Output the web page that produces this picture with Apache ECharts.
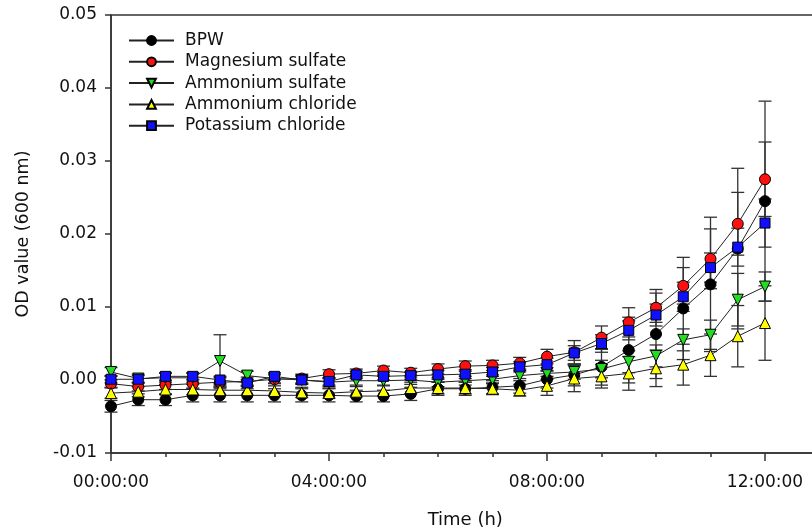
<!DOCTYPE html>
<html>
<head>
<meta charset="utf-8">
<script src="https://cdn.jsdelivr.net/npm/echarts@6/dist/echarts.min.js"></script>
<style>html,body{margin:0;padding:0;background:#fff;}#c{width:812px;height:528px;}</style>
</head>
<body>
<div id="c"></div>
<script>
// Time points (hours)
const hours = [0,0.5,1,1.5,2,2.5,3,3.5,4,4.5,5,5.5,6,6.5,7,7.5,8,8.5,9,9.5,10,10.5,11,11.5,12];
const xTickLabels = {0:'00:00:00',4:'04:00:00',8:'08:00:00',12:'12:00:00'};
const seriesNames = ['BPW','Magnesium sulfate','Ammonium sulfate','Ammonium chloride','Potassium chloride'];

const bpw = [-0.0036,-0.0027,-0.0027,-0.0021,-0.0021,-0.0021,-0.0021,-0.0021,-0.0021,-0.0022,-0.0022,-0.0019,-0.0012,-0.0012,-0.0010,-0.0008,0.0001,0.0007,0.0018,0.0041,0.0063,0.0098,0.0131,0.0180,0.0245];
const bpwErr = [0.0008,0.0008,0.0008,0.0009,0.0009,0.0009,0.0009,0.0009,0.0009,0.0008,0.0008,0.0009,0.0009,0.0009,0.0009,0.0010,0.0012,0.0015,0.0025,0.0045,0.0061,0.0070,0.0092,0.0110,0.0137];

const mgSulfate = [-0.0005,-0.0009,-0.0007,-0.0005,-0.0003,-0.0002,0.0001,0.0002,0.0008,0.0009,0.0013,0.0010,0.0015,0.0019,0.0020,0.0023,0.0032,0.0038,0.0058,0.0079,0.0099,0.0129,0.0166,0.0214,0.0275];
const mgSulfateErr = [0.0005,0.0006,0.0006,0.0006,0.0006,0.0006,0.0006,0.0006,0.0006,0.0006,0.0006,0.0006,0.0007,0.0007,0.0007,0.0008,0.0010,0.0016,0.0016,0.0020,0.0020,0.0025,0.0041,0.0043,0.0051];

const amSulfate = [0.0011,0.0002,0.0003,0.0003,0.0026,0.0006,0.0002,0.0000,-0.0003,-0.0001,-0.0001,0.0000,-0.0003,-0.0001,0.0001,0.0006,0.0009,0.0011,0.0015,0.0025,0.0033,0.0055,0.0062,0.0110,0.0128];
const amSulfateErr = [0.0006,0.0006,0.0006,0.0006,0.0036,0.0006,0.0006,0.0006,0.0006,0.0006,0.0006,0.0006,0.0006,0.0006,0.0006,0.0007,0.0008,0.0010,0.0012,0.0015,0.0015,0.0015,0.0020,0.0036,0.0020];

const amChloride = [-0.0018,-0.0016,-0.0013,-0.0013,-0.0014,-0.0014,-0.0015,-0.0017,-0.0018,-0.0016,-0.0015,-0.0011,-0.0011,-0.0011,-0.0012,-0.0014,-0.0008,0.0002,0.0005,0.0009,0.0016,0.0021,0.0034,0.0060,0.0078];
const amChlorideErr = [0.0007,0.0007,0.0007,0.0007,0.0007,0.0007,0.0007,0.0007,0.0007,0.0007,0.0007,0.0008,0.0008,0.0008,0.0008,0.0008,0.0013,0.0018,0.0016,0.0023,0.0025,0.0028,0.0029,0.0042,0.0051];

const kChloride = [0.0001,0.0001,0.0005,0.0005,0.0000,-0.0004,0.0005,0.0000,-0.0002,0.0007,0.0005,0.0006,0.0007,0.0008,0.0011,0.0018,0.0021,0.0037,0.0050,0.0068,0.0089,0.0114,0.0154,0.0182,0.0215];
const kChlorideErr = [0.0005,0.0005,0.0005,0.0005,0.0005,0.0005,0.0005,0.0005,0.0005,0.0005,0.0005,0.0005,0.0006,0.0006,0.0006,0.0007,0.0009,0.0010,0.0012,0.0013,0.0015,0.0020,0.0020,0.0026,0.0033];

const FONT = 'DejaVu Sans';
const sets = [
  {name: seriesNames[0], v: bpw, e: bpwErr, color: '#000000', symbol: 'circle', rot: 0},
  {name: seriesNames[1], v: mgSulfate, e: mgSulfateErr, color: '#ff1010', symbol: 'circle', rot: 0},
  {name: seriesNames[2], v: amSulfate, e: amSulfateErr, color: '#22dd22', symbol: 'triangle', rot: 180},
  {name: seriesNames[3], v: amChloride, e: amChlorideErr, color: '#ffff00', symbol: 'triangle', rot: 0},
  {name: seriesNames[4], v: kChloride, e: kChlorideErr, color: '#1010ff', symbol: 'rect', rot: 0}
];

function errRender(params, api) {
  const lo = api.coord([api.value(0), api.value(1)]);
  const hi = api.coord([api.value(0), api.value(2)]);
  const w = 6.5;
  const st = {stroke: '#333', lineWidth: 1.3};
  return {type: 'group', children: [
    {type: 'line', shape: {x1: lo[0], y1: lo[1], x2: hi[0], y2: hi[1]}, style: st},
    {type: 'line', shape: {x1: lo[0]-w, y1: lo[1], x2: lo[0]+w, y2: lo[1]}, style: st},
    {type: 'line', shape: {x1: hi[0]-w, y1: hi[1], x2: hi[0]+w, y2: hi[1]}, style: st}
  ]};
}

const series = [];
sets.forEach(function(s, k) {
  series.push({
    name: s.name + ' err', type: 'custom', renderItem: errRender, z: 1 + k*0.01,
    xAxisIndex: 0, yAxisIndex: 0, silent: true,
    encode: {x: 0, y: [1, 2]},
    data: hours.map(function(t, i){ return [t, s.v[i] - s.e[i], s.v[i] + s.e[i]]; })
  });
});
sets.forEach(function(s, k) {
  series.push({
    name: s.name, type: 'line', z: 3 + k*0.01, xAxisIndex: 0, yAxisIndex: 0,
    symbol: s.symbol, symbolRotate: s.rot, symbolSize: s.symbol === 'rect' ? 10 : 11,
    lineStyle: {color: '#222', width: 1},
    itemStyle: {color: s.color, borderColor: '#000', borderWidth: 1},
    data: hours.map(function(t, i){ return [t, s.v[i]]; }),
    animation: false
  });
});

const chart = echarts.init(document.getElementById('c'));
chart.setOption({
  animation: false,
  backgroundColor: '#fff',
  grid: {left: 111, top: 15, bottom: 75, right: -7.5, show: true, borderColor: '#333', borderWidth: 1.5,
         outerBoundsMode: 'none', containLabel: false},
  legend: {
    data: seriesNames, orient: 'vertical', left: 128, top: 32, padding: 0, itemWidth: 45, itemHeight: 11, itemGap: 4.3,
    textStyle: {fontFamily: FONT, fontSize: 17, color: '#111', lineHeight: 17, padding: [0, 0, 0, 6]}
  },
  xAxis: [
    {type: 'value', min: 0, max: 13, interval: 1,
     axisLine: {onZero: false, lineStyle: {color: '#333', width: 1.5}},
     axisTick: {show: true, length: 4, lineStyle: {color: '#333', width: 1.5}},
     axisLabel: {show: false}, splitLine: {show: false}},
    {type: 'value', min: 0, max: 13, interval: 4, position: 'bottom',
     axisLine: {show: false, onZero: false},
     axisTick: {show: true, length: 8, lineStyle: {color: '#333', width: 1.5}},
     axisLabel: {show: true, margin: 21, fontFamily: FONT, fontSize: 17, color: '#111',
       formatter: function(v){ return xTickLabels[v] || ''; }},
     splitLine: {show: false},
     name: 'Time (h)', nameLocation: 'middle', nameGap: 58,
     nameTextStyle: {fontFamily: FONT, fontSize: 18, color: '#111'}}
  ],
  yAxis: {type: 'value', min: -0.01, max: 0.05, interval: 0.01,
    axisLine: {show: true, onZero: false, lineStyle: {color: '#333', width: 1.5}},
    axisTick: {show: true, length: 6, lineStyle: {color: '#333', width: 1.5}},
    axisLabel: {margin: 14, fontFamily: FONT, fontSize: 17, color: '#111',
      formatter: function(v){ return v.toFixed(2); }},
    splitLine: {show: false},
    name: 'OD value (600 nm)', nameLocation: 'middle', nameGap: 79,
    nameTextStyle: {fontFamily: FONT, fontSize: 17.5, color: '#111'}},
  series: series
});
</script>
</body>
</html>
